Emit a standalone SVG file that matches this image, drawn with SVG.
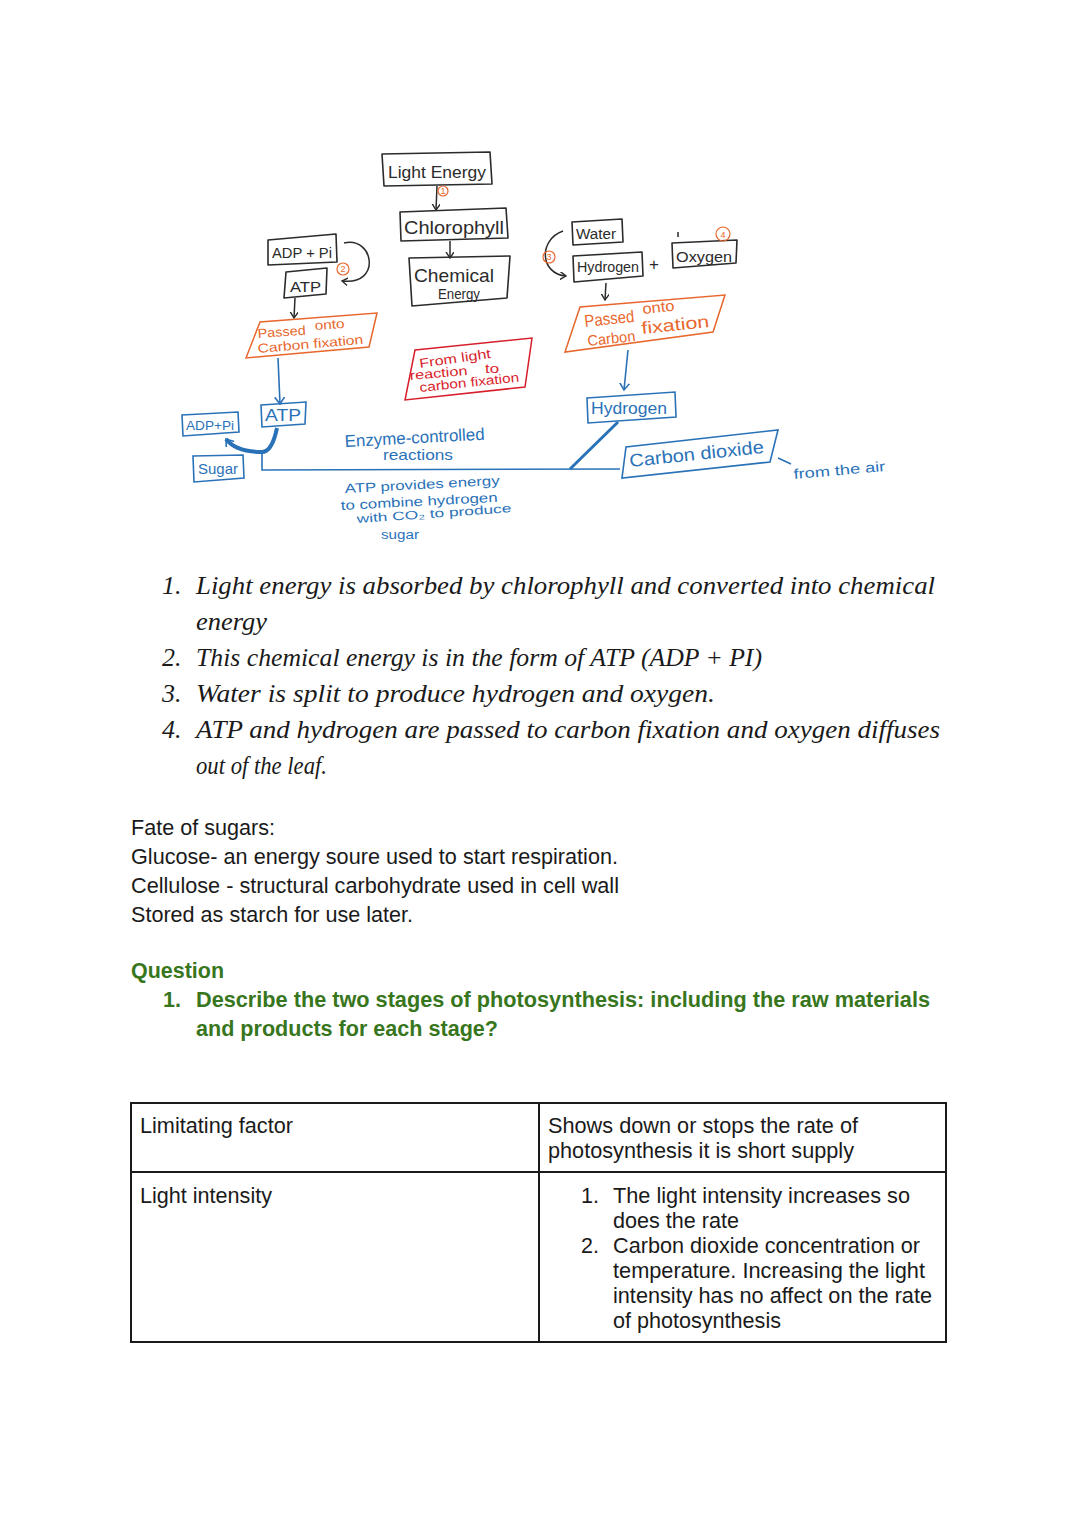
<svg xmlns="http://www.w3.org/2000/svg" width="1080" height="1525" viewBox="0 0 1080 1525">
<style>
.bk{fill:none;stroke:#2b2b2b;stroke-width:1.6;stroke-linejoin:round}
.or{fill:none;stroke:#e8672d;stroke-width:1.5}
.rd{fill:none;stroke:#d81e2c;stroke-width:1.5}
.bl{fill:none;stroke:#2a72b8;stroke-width:1.6}
.hk{font-family:"Liberation Sans","DejaVu Sans",sans-serif;fill:#2b2b2b}
.ho{font-family:"Liberation Sans","DejaVu Sans",sans-serif;fill:#e8672d}
.hr{font-family:"Liberation Sans","DejaVu Sans",sans-serif;fill:#d81e2c}
.hb{font-family:"Liberation Sans","DejaVu Sans",sans-serif;fill:#2a72b8}
.num{font-family:"Liberation Sans",sans-serif;font-size:9px;fill:#e8672d;text-anchor:middle}
.lst{font-family:"Liberation Serif","DejaVu Serif",serif;font-style:italic;font-size:26px;fill:#1a1a1a}
.body{font-family:"Liberation Sans",Arial,sans-serif;font-size:21.5px;fill:#1a1a1a}
.q{font-family:"Liberation Sans",Arial,sans-serif;font-size:21.5px;font-weight:bold;fill:#38761d}
.ln{stroke:#2b2b2b;stroke-width:1.5;fill:none}
.lb{stroke:#2a72b8;stroke-width:1.6;fill:none}
</style>
<defs>
<marker id="ak" markerWidth="10" markerHeight="10" refX="6" refY="4" orient="auto" markerUnits="userSpaceOnUse"><path d="M0,0 L6,4 L0,8" fill="none" stroke="#2b2b2b" stroke-width="1.4"/></marker>
<marker id="ab" markerWidth="12" markerHeight="12" refX="7" refY="5" orient="auto" markerUnits="userSpaceOnUse"><path d="M0,0 L7,5 L0,10" fill="none" stroke="#2a72b8" stroke-width="1.6"/></marker>
</defs>
<rect width="1080" height="1525" fill="#ffffff"/>

<g id="connectors">
<path class="ln" d="M437,186 L436,210" marker-end="url(#ak)"/>
<path class="ln" d="M450,241 L450,258" marker-end="url(#ak)"/>
<path class="ln" d="M344,243 C374,236 382,286 342,281" marker-end="url(#ak)"/>
<path class="ln" d="M295,298 L294,318" marker-end="url(#ak)"/>
<path class="ln" d="M563,231 C538,240 540,274 566,276" marker-end="url(#ak)"/>
<path class="ln" d="M606,283 L605,300" marker-end="url(#ak)"/>
<path class="lb" d="M278,358 L280,404" marker-end="url(#ab)"/>
<path class="lb" d="M628,350 L624,390" marker-end="url(#ab)"/>
<path d="M277,428 Q272,452 262,452 Q236,452 226,439" fill="none" stroke="#2a72b8" stroke-width="4" marker-end="url(#ab)"/>
<path class="lb" d="M262,452 L262,470 L620,469"/>
<path d="M570,469 L618,422" fill="none" stroke="#2a72b8" stroke-width="3"/>
<path class="lb" d="M778,458 L791,464" stroke-width="1.2"/>
</g>

<g id="light-energy"><polygon class="bk" points="382,154 490,152 492,184 384,186"/><text class="hk" x="388" y="178" font-size="17" textLength="98" lengthAdjust="spacingAndGlyphs">Light Energy</text></g>
<g id="step1"><circle cx="443" cy="191" r="5" fill="none" stroke="#e8672d" stroke-width="1.2"/><text class="num" x="443" y="194" font-size="7">1</text></g>
<g id="chlorophyll"><polygon class="bk" points="400,212 506,208 508,238 401,241"/><text class="hk" x="404" y="234" font-size="19" textLength="100" lengthAdjust="spacingAndGlyphs">Chlorophyll</text></g>
<g id="chemical-energy"><polygon class="bk" points="409,258 510,256 507,298 412,306"/><text class="hk" x="414" y="282" font-size="19" textLength="80" lengthAdjust="spacingAndGlyphs">Chemical</text><text class="hk" x="438" y="299" font-size="14" textLength="42" lengthAdjust="spacingAndGlyphs">Energy</text></g>

<g id="adp-pi"><polygon class="bk" points="268,240 336,234 337,262 268,265"/><text class="hk" x="272" y="258" font-size="15" textLength="60" lengthAdjust="spacingAndGlyphs">ADP + Pi</text></g>
<g id="step2"><circle cx="343" cy="269" r="6" fill="none" stroke="#e8672d" stroke-width="1.2"/><text class="num" x="343" y="272">2</text></g>
<g id="atp"><polygon class="bk" points="286,272 327,268 326,294 284,298"/><text class="hk" x="290" y="292" font-size="15" textLength="31" lengthAdjust="spacingAndGlyphs">ATP</text></g>
<g id="passed-left"><polygon class="or" points="246,358 260,322 377,313 369,347"/>
<text class="ho" x="258" y="338" font-size="13" textLength="48" lengthAdjust="spacingAndGlyphs" transform="rotate(-4 258 338)">Passed</text>
<text class="ho" x="315" y="330" font-size="13" textLength="30" lengthAdjust="spacingAndGlyphs" transform="rotate(-4 315 330)">onto</text>
<text class="ho" x="258" y="353" font-size="13" textLength="106" lengthAdjust="spacingAndGlyphs" transform="rotate(-5 258 353)">Carbon fixation</text></g>

<g id="from-light"><polygon class="rd" points="415,350 532,338 525,387 405,400"/>
<text class="hr" x="420" y="368" font-size="13" textLength="72" lengthAdjust="spacingAndGlyphs" transform="rotate(-8 420 368)">From light</text>
<text class="hr" x="410" y="380" font-size="13" textLength="58" lengthAdjust="spacingAndGlyphs" transform="rotate(-5 410 380)">reaction</text>
<text class="hr" x="485" y="373" font-size="12" textLength="14" lengthAdjust="spacingAndGlyphs">to</text>
<text class="hr" x="420" y="392" font-size="13" textLength="100" lengthAdjust="spacingAndGlyphs" transform="rotate(-6 420 392)">carbon fixation</text></g>

<g id="water"><polygon class="bk" points="572,222 622,219 623,242 573,245"/><text class="hk" x="576" y="239" font-size="14" textLength="40" lengthAdjust="spacingAndGlyphs">Water</text></g>
<g id="step3"><circle cx="549" cy="257" r="6" fill="none" stroke="#e8672d" stroke-width="1.2"/><text class="num" x="549" y="260">3</text></g>
<g id="hydrogen-top"><polygon class="bk" points="573,256 642,252 643,276 574,282"/><text class="hk" x="577" y="272" font-size="14" textLength="62" lengthAdjust="spacingAndGlyphs">Hydrogen</text></g>
<text class="hk" x="649" y="270" font-size="17">+</text>
<g id="oxygen"><polygon class="bk" points="672,243 737,240 736,263 673,268"/><text class="hk" x="676" y="262" font-size="15" textLength="56" lengthAdjust="spacingAndGlyphs">Oxygen</text><line class="ln" x1="678" y1="232" x2="678" y2="237" stroke-width="1"/></g>
<g id="step4"><circle cx="723" cy="234" r="7" fill="none" stroke="#e8672d" stroke-width="1.2"/><text class="num" x="723" y="238" font-size="10">4</text></g>
<g id="passed-right"><polygon class="or" points="565,352 580,307 725,295 713,332"/>
<text class="ho" x="585" y="327" font-size="17" textLength="50" lengthAdjust="spacingAndGlyphs" transform="rotate(-6 585 327)">Passed</text>
<text class="ho" x="643" y="314" font-size="15" textLength="32" lengthAdjust="spacingAndGlyphs" transform="rotate(-6 643 314)">onto</text>
<text class="ho" x="588" y="346" font-size="15" textLength="48" lengthAdjust="spacingAndGlyphs" transform="rotate(-6 588 346)">Carbon</text>
<text class="ho" x="642" y="334" font-size="17" textLength="68" lengthAdjust="spacingAndGlyphs" transform="rotate(-6 642 334)">fixation</text></g>

<g id="adp-pi-blue"><polygon class="bl" points="182,415 238,412 239,432 183,436"/><text class="hb" x="186" y="430" font-size="13" textLength="48" lengthAdjust="spacingAndGlyphs">ADP+Pi</text></g>
<g id="atp-blue"><polygon class="bl" points="261,405 306,402 305,424 262,427"/><text class="hb" x="265" y="421" font-size="16" textLength="36" lengthAdjust="spacingAndGlyphs">ATP</text></g>
<g id="sugar"><polygon class="bl" points="193,456 243,455 244,478 194,482"/><text class="hb" x="198" y="474" font-size="15" textLength="40" lengthAdjust="spacingAndGlyphs">Sugar</text></g>
<g id="hydrogen-blue"><polygon class="bl" points="587,398 675,392 676,417 588,423"/><text class="hb" x="591" y="414" font-size="17" textLength="76" lengthAdjust="spacingAndGlyphs">Hydrogen</text></g>
<g id="carbon-dioxide"><polygon class="bl" points="622,478 626,447 778,430 770,462"/><text class="hb" x="630" y="467" font-size="18" textLength="135" lengthAdjust="spacingAndGlyphs" transform="rotate(-6 630 467)">Carbon dioxide</text></g>
<text class="hb" x="794" y="479" font-size="14" textLength="92" lengthAdjust="spacingAndGlyphs" transform="rotate(-5 794 479)">from the air</text>

<g id="enzyme-label">
<text class="hb" x="345" y="447" font-size="17" textLength="140" lengthAdjust="spacingAndGlyphs" transform="rotate(-3 345 447)">Enzyme-controlled</text>
<text class="hb" x="383" y="460" font-size="15" textLength="70" lengthAdjust="spacingAndGlyphs">reactions</text>
<text class="hb" x="345" y="493" font-size="13" textLength="155" lengthAdjust="spacingAndGlyphs" transform="rotate(-3 345 493)">ATP provides energy</text>
<text class="hb" x="341" y="510" font-size="13" textLength="157" lengthAdjust="spacingAndGlyphs" transform="rotate(-3 341 510)">to combine hydrogen</text>
<text class="hb" x="357" y="523" font-size="12" textLength="155" lengthAdjust="spacingAndGlyphs" transform="rotate(-4 357 523)">with CO₂ to produce</text>
<text class="hb" x="381" y="539" font-size="12" textLength="38" lengthAdjust="spacingAndGlyphs">sugar</text>
</g>

<g id="steps-list">
<text class="lst" x="162" y="594">1.</text><text class="lst" x="196" y="594" textLength="739" lengthAdjust="spacingAndGlyphs">Light energy is absorbed by chlorophyll and converted into chemical</text>
<text class="lst" x="196" y="630" textLength="71" lengthAdjust="spacingAndGlyphs">energy</text>
<text class="lst" x="162" y="666">2.</text><text class="lst" x="196" y="666" textLength="566" lengthAdjust="spacingAndGlyphs">This chemical energy is in the form of ATP (ADP + PI)</text>
<text class="lst" x="162" y="702">3.</text><text class="lst" x="196" y="702" textLength="519" lengthAdjust="spacingAndGlyphs">Water is split to produce hydrogen and oxygen.</text>
<text class="lst" x="162" y="738">4.</text><text class="lst" x="196" y="738" textLength="744" lengthAdjust="spacingAndGlyphs">ATP and hydrogen are passed to carbon fixation and oxygen diffuses</text>
<text class="lst" x="196" y="774" textLength="131" lengthAdjust="spacingAndGlyphs">out of the leaf.</text>
</g>

<g id="fate">
<text class="body" x="131" y="835" textLength="144" lengthAdjust="spacingAndGlyphs">Fate of sugars:</text>
<text class="body" x="131" y="864" textLength="487" lengthAdjust="spacingAndGlyphs">Glucose- an energy soure used to start respiration.</text>
<text class="body" x="131" y="893" textLength="488" lengthAdjust="spacingAndGlyphs">Cellulose - structural carbohydrate used in cell wall</text>
<text class="body" x="131" y="922" textLength="282" lengthAdjust="spacingAndGlyphs">Stored as starch for use later.</text>
</g>

<g id="question">
<text class="q" x="131" y="978" textLength="93" lengthAdjust="spacingAndGlyphs">Question</text>
<text class="q" x="163" y="1007">1.</text>
<text class="q" x="196" y="1007" textLength="734" lengthAdjust="spacingAndGlyphs">Describe the two stages of photosynthesis: including the raw materials</text>
<text class="q" x="196" y="1036" textLength="302" lengthAdjust="spacingAndGlyphs">and products for each stage?</text>
</g>

<g id="table">
<rect x="131" y="1103" width="815" height="239" fill="none" stroke="#1a1a1a" stroke-width="2"/>
<line x1="539" y1="1103" x2="539" y2="1342" stroke="#1a1a1a" stroke-width="2"/>
<line x1="131" y1="1172" x2="946" y2="1172" stroke="#1a1a1a" stroke-width="2"/>
<text class="body" x="140" y="1133" textLength="153" lengthAdjust="spacingAndGlyphs">Limitating factor</text>
<text class="body" x="548" y="1133" textLength="310" lengthAdjust="spacingAndGlyphs">Shows down or stops the rate of</text>
<text class="body" x="548" y="1158" textLength="306" lengthAdjust="spacingAndGlyphs">photosynthesis it is short supply</text>
<text class="body" x="140" y="1203" textLength="132" lengthAdjust="spacingAndGlyphs">Light intensity</text>
<text class="body" x="581" y="1203">1.</text>
<text class="body" x="613" y="1203" textLength="297" lengthAdjust="spacingAndGlyphs">The light intensity increases so</text>
<text class="body" x="613" y="1228" textLength="126" lengthAdjust="spacingAndGlyphs">does the rate</text>
<text class="body" x="581" y="1253">2.</text>
<text class="body" x="613" y="1253" textLength="307" lengthAdjust="spacingAndGlyphs">Carbon dioxide concentration or</text>
<text class="body" x="613" y="1278" textLength="312" lengthAdjust="spacingAndGlyphs">temperature. Increasing the light</text>
<text class="body" x="613" y="1303" textLength="319" lengthAdjust="spacingAndGlyphs">intensity has no affect on the rate</text>
<text class="body" x="613" y="1328" textLength="168" lengthAdjust="spacingAndGlyphs">of photosynthesis</text>
</g>
</svg>
